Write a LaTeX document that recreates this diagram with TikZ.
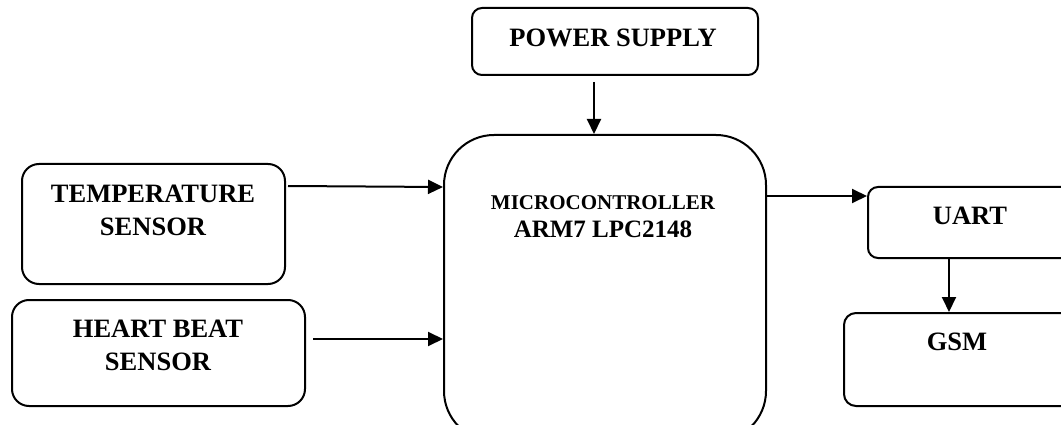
\documentclass[tikz,border=0pt]{standalone}
\usepackage{fontspec}
\setmainfont{Liberation Serif}
\usetikzlibrary{arrows.meta}
\begin{document}
\begin{tikzpicture}[x=1pt,y=-1pt,
  blk/.style={draw, line width=2pt, rounded corners=#1, anchor=north west, inner sep=0pt},
  blk/.default=10pt,
  lbl/.style={font=\fontsize{26.5}{33}\selectfont\bfseries, align=center, anchor=base, inner sep=0pt},
  arr/.style={line width=2pt, -{Triangle[length=15pt,width=14pt]}}]
\useasboundingbox (0,0) rectangle (1061,425);
% boxes
\node[blk=10pt, minimum width=286pt, minimum height=67pt] (power) at (471,7) {};
\node[blk=50pt, minimum width=322pt, minimum height=306pt] (micro) at (443,134) {};
\node[blk=17pt, minimum width=263pt, minimum height=120pt] (temp) at (21,163) {};
\node[blk=17pt, minimum width=293pt, minimum height=106pt] (heart) at (11,299) {};
\node[blk=10pt, minimum width=220pt, minimum height=71pt] (uart) at (867,186) {};
\node[blk=12pt, minimum width=240pt, minimum height=93pt] (gsm) at (843,312) {};
% labels
\node[lbl] (tpower) at (613,47) {POWER SUPPLY};
\node[lbl] (ttemp) at (153,236) {TEMPERATURE\\SENSOR};
\node[lbl] (theart) at (158,370) {HEART BEAT\\SENSOR};
\node[lbl, font=\fontsize{21}{26}\selectfont\bfseries] (tmicro) at (603,209) {MICROCONTROLLER};
\node[lbl, font=\fontsize{25}{30}\selectfont\bfseries] (tarm) at (603,237) {ARM7 LPC2148};
\node[lbl] (tuart) at (970,224) {UART};
\node[lbl] (tgsm) at (957,350) {GSM};
% connectors
\coordinate (hstart) at (313,339);
\draw[arr] (power.south -| 594,0) ++(0,6) -- (micro.north -| 594,0);
\draw[arr] (temp.east |- 0,186) ++(2,0) -- (micro.west |- 0,187);
\draw[arr] (hstart) -- (micro.west |- hstart);
\draw[arr] (micro.east |- 0,196) -- (uart.west |- 0,196);
\draw[arr] (uart.south -| 949,0) -- (gsm.north -| 949,0);
\end{tikzpicture}
\end{document}
